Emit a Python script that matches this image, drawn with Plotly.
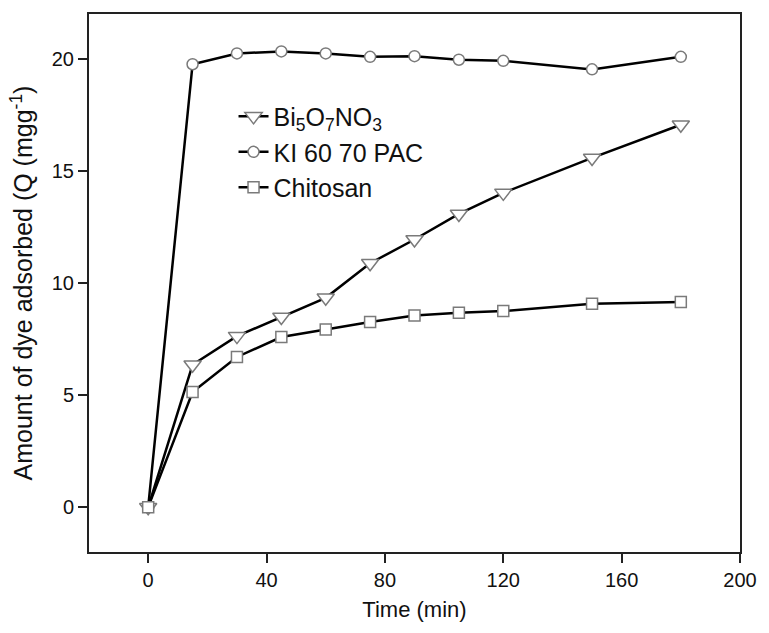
import plotly.graph_objects as go

time_min = [0, 15, 30, 45, 60, 75, 90, 105, 120, 150, 180]
bi5o7no3 = [0, 6.35, 7.63, 8.48, 9.34, 10.88, 11.94, 13.08, 14.02, 15.58, 17.06]
ki_pac = [0, 19.76, 20.24, 20.33, 20.24, 20.09, 20.12, 19.96, 19.91, 19.53, 20.09]
chitosan = [0, 5.14, 6.70, 7.59, 7.93, 8.26, 8.55, 8.67, 8.75, 9.07, 9.15]

names = ["Bi<sub>5</sub>O<sub>7</sub>NO<sub>3</sub>", "KI 60 70 PAC", "Chitosan"]
series = [bi5o7no3, ki_pac, chitosan]
symbols = ["triangle-down", "circle", "square"]
sizes = [15, 11, 11]

fig = go.Figure()
for name, ys, sym, sz in zip(names, series, symbols, sizes):
    fig.add_trace(go.Scatter(
        x=time_min, y=ys, name=name, mode="lines+markers",
        line=dict(color="black", width=2.5),
        marker=dict(symbol=sym, size=sz, color="white",
                    line=dict(color="#7a7a7a", width=1.5)),
    ))

tick_font = dict(family="Liberation Sans, Arial", size=20, color="#111")
fig.update_layout(
    width=769, height=633,
    margin=dict(l=89, r=20, t=14, b=81),
    paper_bgcolor="white", plot_bgcolor="white",
    showlegend=True,
    legend=dict(x=0.222, y=0.852, xanchor="left", yanchor="top",
                bgcolor="rgba(0,0,0,0)", itemwidth=30,
                font=dict(family="Liberation Sans, Arial", size=25, color="#111")),
    xaxis=dict(range=[-20, 200], tickvals=[0, 40, 80, 120, 160, 200],
               showline=True, linecolor="#222", linewidth=2, mirror=True,
               ticks="outside", ticklen=9, tickwidth=1.5, tickcolor="#222",
               showgrid=False, zeroline=False, tickfont=tick_font,
               title=dict(text="Time (min)", standoff=12,
                          font=dict(family="Liberation Sans, Arial", size=22, color="#111"))),
    yaxis=dict(range=[-2, 22], tickvals=[0, 5, 10, 15, 20],
               showline=True, linecolor="#222", linewidth=2, mirror=True,
               ticks="outside", ticklen=9, tickwidth=1.5, tickcolor="#222",
               showgrid=False, zeroline=False, tickfont=tick_font,
               title=dict(text="Amount of dye adsorbed (Q (mgg<sup>-1</sup>)", standoff=12,
                          font=dict(family="Liberation Sans, Arial", size=25, color="#111"))),
)

fig.write_html("out.html")
